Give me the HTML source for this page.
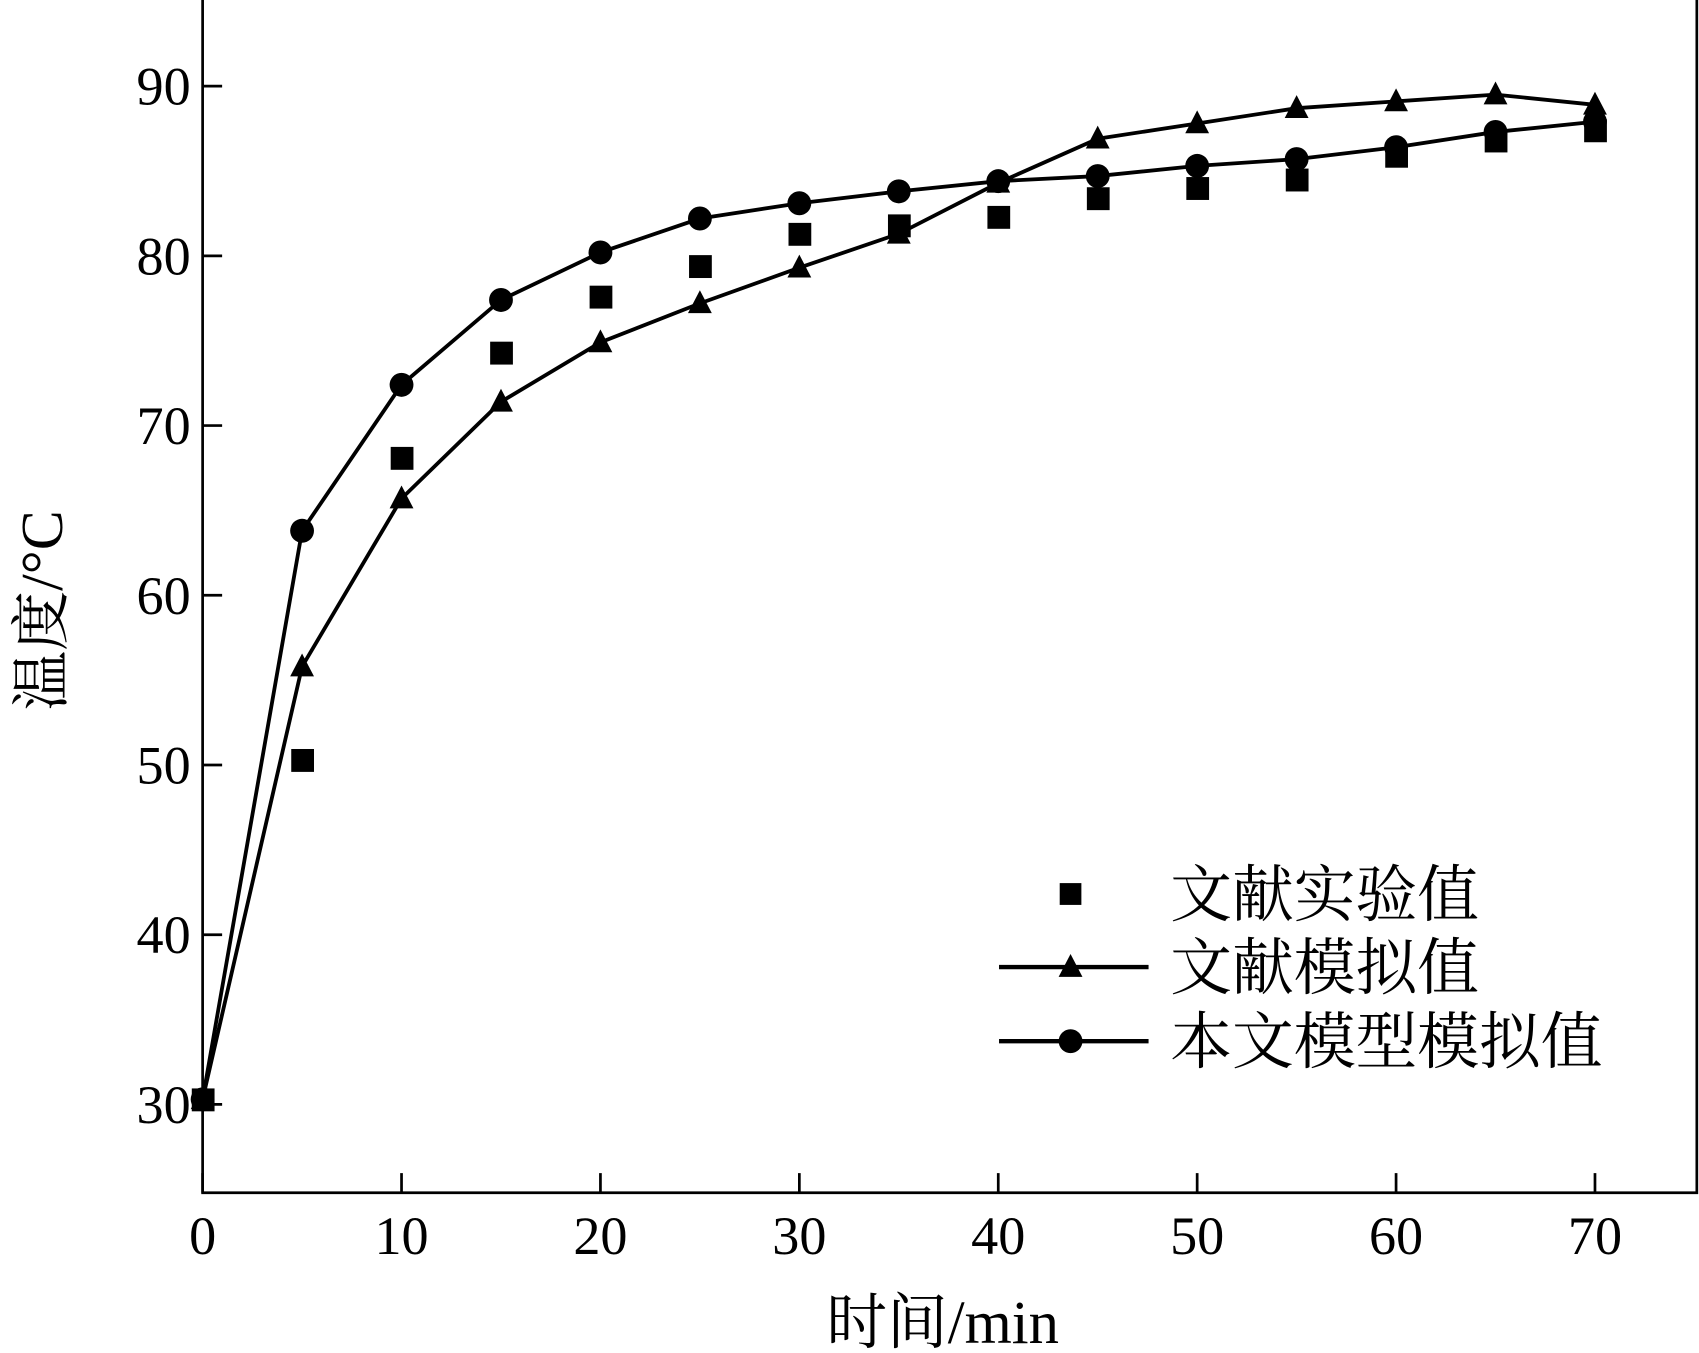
<!DOCTYPE html>
<html><head><meta charset="utf-8"><style>
html,body{margin:0;padding:0;background:#fff;}
svg{display:block;}
text{font-family:"Liberation Serif","Noto Serif CJK SC",serif;fill:#000;}
</style></head><body>
<svg id="chart" width="1699" height="1353" viewBox="0 0 1568 1241" preserveAspectRatio="none" xmlns="http://www.w3.org/2000/svg">
<g id="axes"></g>
<g id="series"></g>
<g id="legend">
  <rect x="978" y="810" width="20" height="20" fill="#000"/>
  <text x="1080" y="840" font-size="57">文献实验值</text>
  <line x1="922" y1="887" x2="1060" y2="887" stroke="#000" stroke-width="4"/>
  <polygon points="988,875 977,896 999,896" fill="#000"/>
  <text x="1080" y="907" font-size="57">文献模拟值</text>
  <line x1="922" y1="955" x2="1060" y2="955" stroke="#000" stroke-width="4"/>
  <circle cx="988" cy="955" r="11" fill="#000"/>
  <text x="1080" y="975" font-size="57">本文模型模拟值</text>
</g>
<text x="870" y="1232" font-size="56" text-anchor="middle">时间/min</text>
<text transform="translate(57,560) rotate(-90)" font-size="55" text-anchor="middle">温度/°C</text>
</svg>
<script>
const times=[0,5,10,15,20,25,30,35,40,45,50,55,60,65,70];
const expValues=[30.3,50.3,68.1,74.3,77.6,79.4,81.3,81.8,82.3,83.4,84.0,84.5,85.9,86.8,87.4];
const litValues=[30.3,55.8,65.7,71.4,74.9,77.2,79.3,81.3,84.3,86.9,87.8,88.7,89.1,89.5,88.9];
const modelValues=[30.3,63.8,72.4,77.4,80.2,82.2,83.1,83.8,84.4,84.7,85.3,85.7,86.4,87.3,87.9];
const xTicks=[0,10,20,30,40,50,60,70];
const yTicks=[30,40,50,60,70,80,90];

const NS="http://www.w3.org/2000/svg";
function X(v){return 187+(v/70)*(1472-187);}
function Y(v){return 1013-(v-30)*(1013-79)/60;}
function mk(tag,attrs,parent){const e=document.createElementNS(NS,tag);for(const k in attrs)e.setAttribute(k,attrs[k]);parent.appendChild(e);return e;}
const axes=document.getElementById('axes');
const series=document.getElementById('series');

let frame=mk('path',{d:'M187,0 L187,1094 L1566,1094 L1566,0',fill:'none',stroke:'#000','stroke-width':2.5},axes);



xTicks.forEach(t=>{
  const l=mk('line',{x1:X(t),x2:X(t),y1:1094,y2:1076,stroke:'#000','stroke-width':2.5},axes);
  
  
  const tx=mk('text',{x:X(t),y:1150,'font-size':50,'text-anchor':'middle'},axes);
  tx.textContent=t;
  
  
});
yTicks.forEach(t=>{
  const l=mk('line',{x1:187,x2:205,y1:Y(t),y2:Y(t),stroke:'#000','stroke-width':2.5},axes);
  
  
  const tx=mk('text',{x:176,y:Y(t)+17,'font-size':50,'text-anchor':'end'},axes);
  tx.textContent=t;
  
  
});

function line(vals,name){
  const p=mk('polyline',{points:vals.map((v,i)=>X(times[i])+','+Y(v)).join(' '),fill:'none',stroke:'#000','stroke-width':3.5},series);
  
  
}
line(litValues,'literature-sim-line');
line(modelValues,'model-sim-line');

litValues.forEach((v,i)=>{
  const x=X(times[i]),y=Y(v);
  const m=mk('polygon',{points:`${x},${y-12} ${x-11},${y+9} ${x+11},${y+9}`,fill:'#000'},series);
  
  
});
modelValues.forEach((v,i)=>{
  const m=mk('circle',{cx:X(times[i]),cy:Y(v),r:11,fill:'#000'},series);
  
  
});
expValues.forEach((v,i)=>{
  const m=mk('rect',{x:X(times[i])-10,y:Y(v)-10,width:21,height:21,fill:'#000'},series);
  
  
});
</script>
</body></html>
